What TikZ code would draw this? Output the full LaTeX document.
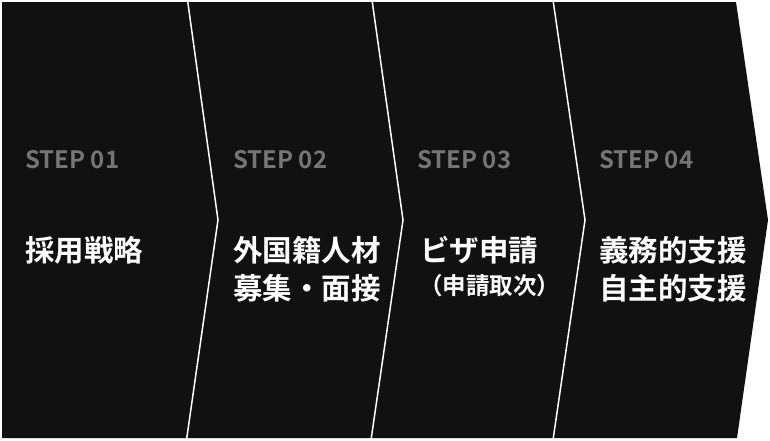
\documentclass[tikz,border=0pt]{standalone}
\usepackage{fontspec}
\newfontfamily\jpfont{Noto Sans CJK JP}[BoldFont={* Bold}]
\definecolor{bgdark}{HTML}{111111}
\definecolor{stepgray}{HTML}{757575}
\tikzset{
  steplabel/.style={anchor=base west, inner sep=0pt, text=stepgray, font=\jpfont\bfseries\fontsize{24}{24}\selectfont},
  titlelabel/.style={anchor=base west, inner sep=0pt, text=white, font=\jpfont\bfseries\fontsize{29.5}{29.5}\selectfont},
  sublabel/.style={anchor=base west, inner sep=0pt, text=white, font=\jpfont\bfseries\fontsize{23.5}{23.5}\selectfont},
  divider/.style={draw=white, line width=1.5pt, line join=miter},
}
\begin{document}
\begin{tikzpicture}[x=1pt,y=-1pt]
\useasboundingbox (0,0) rectangle (770,440);
\fill[bgdark] (2,2) -- (736,2) -- (768,220) -- (737,438) -- (2,438) -- cycle;
\coordinate (t1) at (187.5,0); \coordinate (m1) at (218,220); \coordinate (b1) at (186.5,440);
\coordinate (t2) at (372,0);   \coordinate (m2) at (403,220); \coordinate (b2) at (371,440);
\coordinate (t3) at (553,0);   \coordinate (m3) at (585,220); \coordinate (b3) at (553,440);
\draw[divider] (t1) -- (m1) -- (b1);
\draw[divider] (t2) -- (m2) -- (b2);
\draw[divider] (t3) -- (m3) -- (b3);
\node[steplabel] (s1) at (25,168) {STEP 01};
\node[steplabel] (s2) at (233,168) {STEP 02};
\node[steplabel] (s3) at (417,168) {STEP 03};
\node[steplabel] (s4) at (599,168) {STEP 04};
\node[titlelabel] (a1) at (25,261) {採用戦略};
\node[titlelabel] (a2) at (233,261) {外国籍人材};
\node[titlelabel] (a3) at (233,299) {募集・面接};
\node[titlelabel] (a4) at (420,261) {ビザ申請};
\node[sublabel] (a5) at (419,294) {（申請取次）};
\node[titlelabel] (a6) at (599,261) {義務的支援};
\node[titlelabel] (a7) at (599,299) {自主的支援};
\end{tikzpicture}
\end{document}
